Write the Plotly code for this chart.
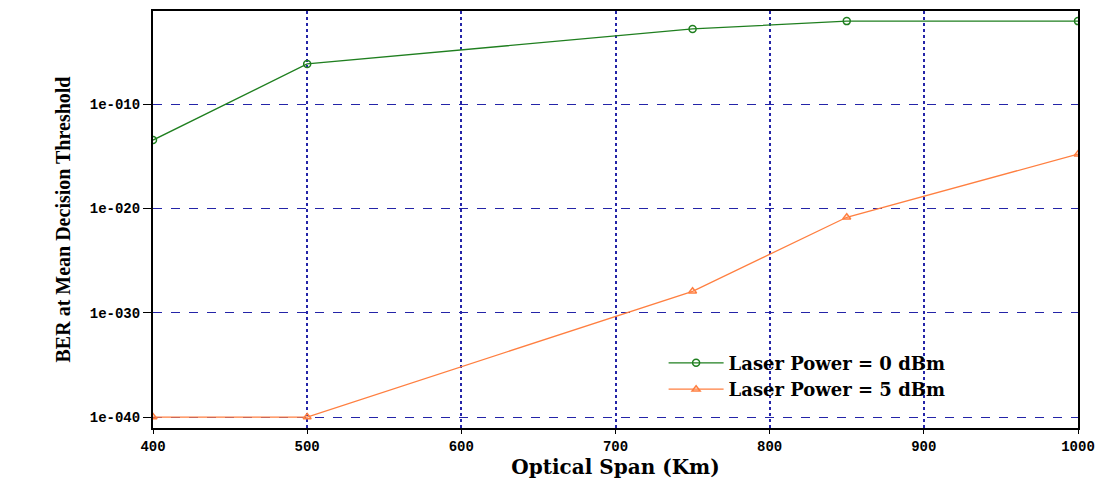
import plotly.graph_objects as go

span_km = [400, 500, 750, 850, 1000]
ber_0dbm = [10**-13.45, 10**-6.15, 10**-2.8, 10**-2.05, 10**-2.05]
ber_5dbm = [1e-40, 1e-40, 10**-27.95, 10**-20.85, 10**-14.8]

x_ticks = [400, 500, 600, 700, 800, 900, 1000]
y_tickvals = [1e-10, 1e-20, 1e-30, 1e-40]
y_ticktext = ["1e-010", "1e-020", "1e-030", "1e-040"]

fig = go.Figure()
fig.add_trace(go.Scatter(
    x=span_km, y=ber_0dbm, mode="lines+markers", name="Laser Power = 0 dBm",
    line=dict(color="#1f7f1f", width=1.3),
    marker=dict(symbol="circle-open", size=7, color="#1f7f1f", line=dict(width=1.5)),
))
fig.add_trace(go.Scatter(
    x=span_km, y=ber_5dbm, mode="lines+markers", name="Laser Power = 5 dBm",
    line=dict(color="#ff7f40", width=1.3),
    marker=dict(symbol="triangle-up-open", size=7, color="#ff7f40", line=dict(width=1.5)),
))

fig.update_layout(
    width=1099, height=479,
    margin=dict(l=153, r=21, t=11, b=51, autoexpand=False),
    paper_bgcolor="white", plot_bgcolor="white",
    showlegend=True,
    legend=dict(
        x=0.552, y=0.2, xanchor="left", yanchor="top",
        bgcolor="rgba(0,0,0,0)",
        font=dict(family="DejaVu Serif", size=18, color="black", weight="bold"),
        tracegroupgap=0, itemwidth=55,
    ),
    xaxis=dict(
        range=[400, 1000], tickvals=x_ticks, automargin=False,
        ticks="outside", ticklen=4, tickcolor="black",
        showline=True, linecolor="black", linewidth=2, mirror=True,
        showgrid=True, gridcolor="#2424a8", griddash="dot", gridwidth=2,
        zeroline=False,
        tickfont=dict(family="Liberation Mono", size=14, color="black", weight="bold"),
        title=dict(text="Optical Span (Km)",
                   font=dict(family="DejaVu Serif", size=20, color="black", weight="bold"),
                   standoff=4),
    ),
    yaxis=dict(
        type="log", range=[-41.05, -1.08], automargin=False,
        tickvals=y_tickvals, ticktext=y_ticktext,
        ticks="outside", ticklen=8, tickcolor="black",
        showline=True, linecolor="black", linewidth=2, mirror=True,
        showgrid=True, gridcolor="#2424a8", griddash="dash", gridwidth=1.3,
        zeroline=False,
        tickfont=dict(family="Liberation Mono", size=14, color="black", weight="bold"),
        title=dict(text="BER at Mean Decision Threshold",
                   font=dict(family="Liberation Serif", size=20, color="black", weight="bold"),
                   standoff=14),
    ),
)

fig.write_html("out.html")
